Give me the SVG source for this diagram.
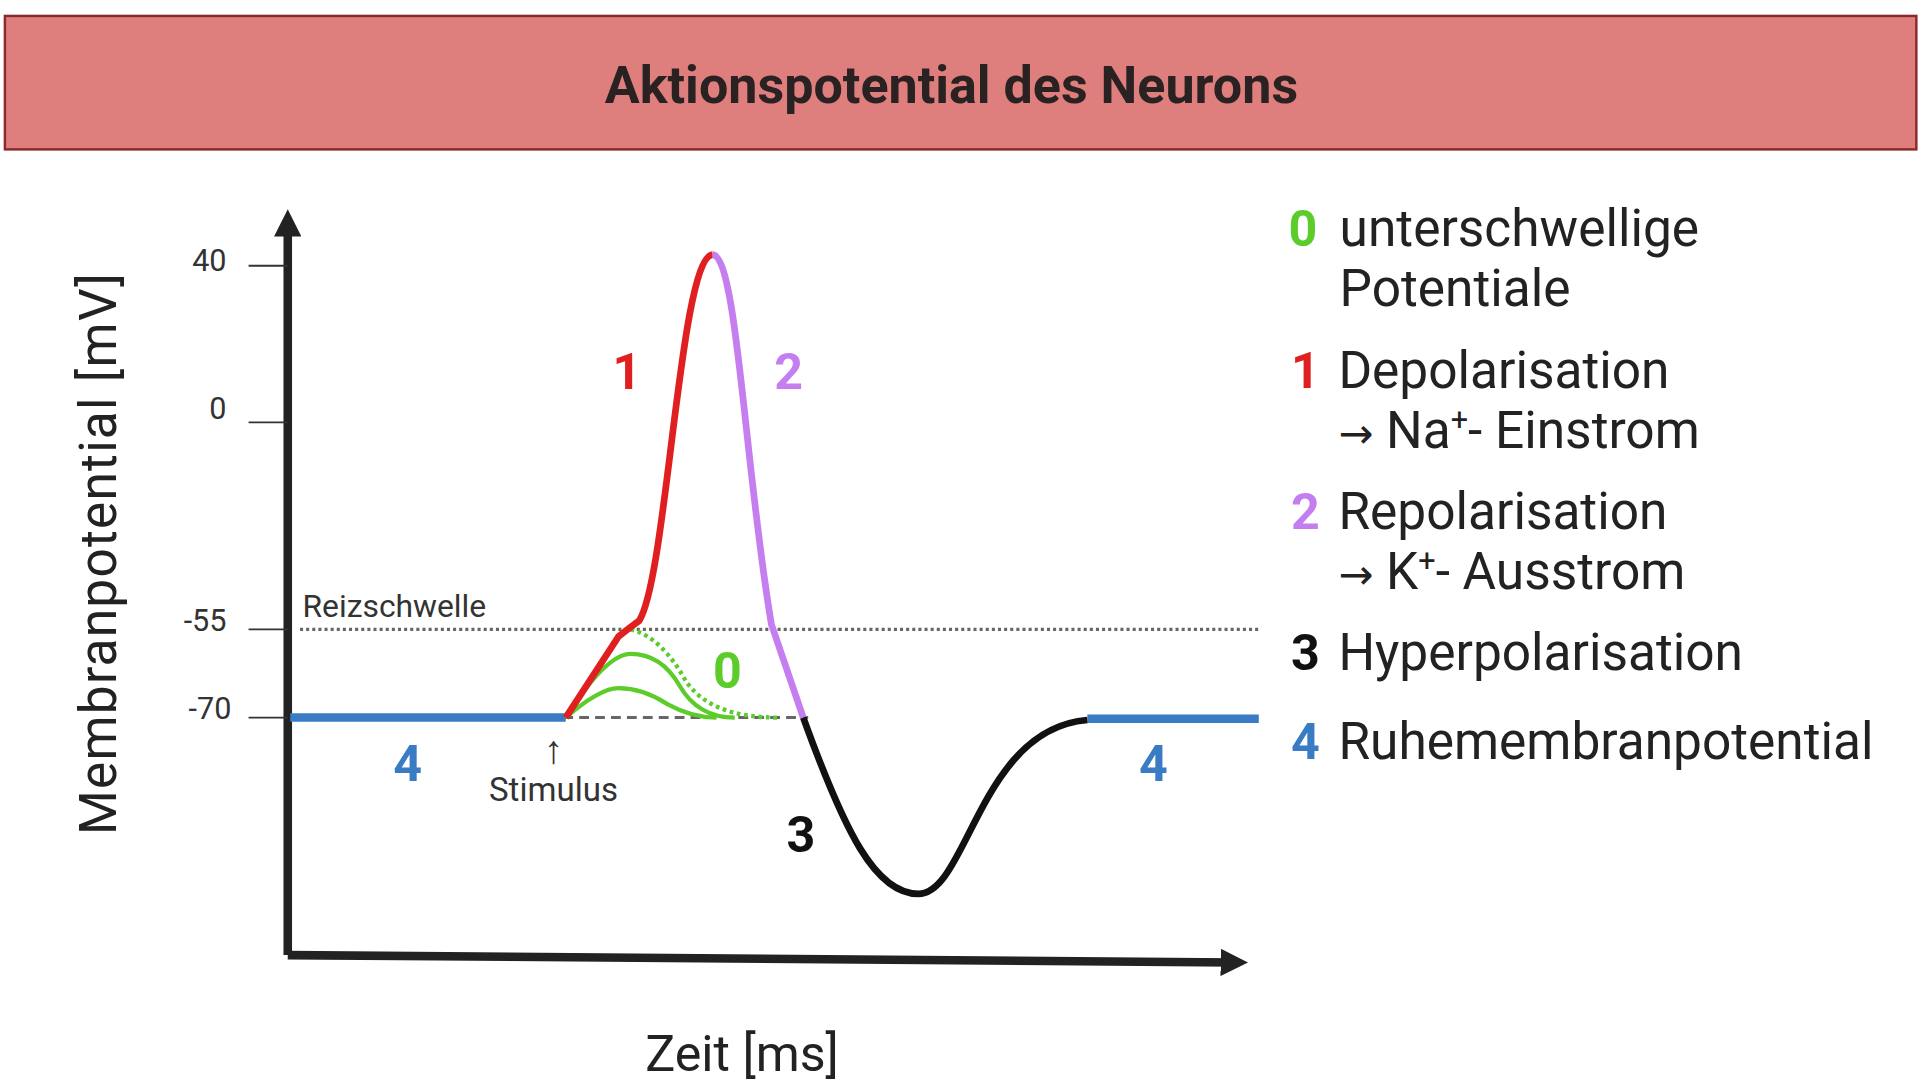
<svg xmlns="http://www.w3.org/2000/svg" width="1920" height="1080" viewBox="0 0 1920 1080">
<style>
text{font-family:Roboto,"Liberation Sans",sans-serif}
.tick{font-size:25px;fill:#333;text-anchor:end}
.num{font-size:41px;font-weight:bold;text-anchor:middle}
.leg{font-size:42px;fill:#222}
.ar{font-family:"DejaVu Sans",sans-serif;font-size:34px}
</style>
<defs>
<marker id="ah" viewBox="0 0 10 10" refX="5" refY="5" markerWidth="3.2" markerHeight="3.2" orient="auto"><path d="M0,0 L10,5 L0,10 z" fill="#222"/></marker>
</defs>
<rect width="1920" height="1080" fill="#fff"/>
<g transform="scale(1.2245)">
<g id="title"><rect x="4" y="13" width="1561" height="109" fill="#df7f7d" stroke="#8b2a2a" stroke-width="2"/>
<text x="777" y="84" text-anchor="middle" font-size="42.5" font-weight="bold" fill="#2a2222">Aktionspotential des Neurons</text></g>
<g id="connectors" fill="none">
<line x1="235" y1="780" x2="235" y2="182" stroke="#222" stroke-width="7" marker-end="url(#ah)"/>
<line x1="235" y1="780" x2="1008" y2="786" stroke="#222" stroke-width="7" marker-end="url(#ah)"/>
<g stroke="#333" stroke-width="1.5"><line x1="203" y1="217" x2="235" y2="217"/><line x1="203" y1="345" x2="235" y2="345"/><line x1="203" y1="514" x2="235" y2="514"/><line x1="203" y1="586" x2="235" y2="586"/></g>
<line x1="245" y1="514" x2="1028" y2="514" stroke="#666" stroke-width="2.5" stroke-dasharray="2.5 2.5"/>
<line x1="460" y1="586" x2="660" y2="586" stroke="#666" stroke-width="2.5" stroke-dasharray="8 5"/>
<g stroke="#3a7cc4" stroke-width="7"><line x1="237" y1="586" x2="462" y2="586"/><line x1="888" y1="587" x2="1028" y2="587"/></g>
<g stroke="#5ccc2a" stroke-width="3.5"><path d="M462,586 Q490,562 505,562 Q525,562 545,575 Q565,586 585,586"/><path d="M462,586 Q495,534 515,534 Q540,534 555,560 Q570,586 600,586"/></g>
<path d="M515,514 Q540,520 560,556 Q580,586 635,586" stroke="#5ccc2a" stroke-width="3.5" stroke-dasharray="3 3"/>
<path d="M462,586 L505,520 Q515,512 522,507 C545,470 555,210 582,208" stroke="#e02020" stroke-width="5.5"/>
<path d="M582,208 C602,210 608,380 630,510 L656,586" stroke="#c47ef0" stroke-width="5.5"/>
<path d="M656,586 C690,680 715,730 750,730 C790,730 800,595 888,588" stroke="#111" stroke-width="5.5"/>
</g>
<g id="labels">
<text class="tick" x="185" y="221">40</text><text class="tick" x="185" y="342">0</text><text class="tick" x="185" y="515">-55</text><text class="tick" x="189" y="587">-70</text>
<text x="247" y="504" font-size="26" fill="#333">Reizschwelle</text>
<text x="452" y="623" font-size="32" fill="#333" text-anchor="middle" font-family="DejaVu Sans, sans-serif">↑</text>
<text x="452" y="654" font-size="27" fill="#333" text-anchor="middle">Stimulus</text>
<text class="num" x="512" y="318" fill="#e02020">1</text>
<text class="num" x="644" y="318" fill="#c47ef0">2</text>
<text class="num" x="594" y="562" fill="#5ccc2a">0</text>
<text class="num" x="654" y="696" fill="#111">3</text>
<text class="num" x="333" y="638" fill="#3a7cc4">4</text>
<text class="num" x="942" y="638" fill="#3a7cc4">4</text>
<text x="0" y="0" font-size="42" letter-spacing="1" fill="#222" text-anchor="middle" transform="translate(95,452) rotate(-90)">Membranpotential [mV]</text>
<text x="606" y="875" font-size="41" fill="#222" text-anchor="middle">Zeit [ms]</text>
</g>
<g id="legend">
<text class="num" x="1064" y="201" fill="#5ccc2a">0</text><text class="leg" x="1094" y="201">unterschwellige</text><text class="leg" x="1094" y="250">Potentiale</text>
<text class="num" x="1066" y="317" fill="#e02020">1</text><text class="leg" x="1093" y="317">Depolarisation</text><text class="leg" x="1093" y="366"><tspan class="ar">→</tspan> Na<tspan font-size="25" dy="-15">+</tspan><tspan dy="15">- Einstrom</tspan></text>
<text class="num" x="1066" y="432" fill="#c47ef0">2</text><text class="leg" x="1093" y="432">Repolarisation</text><text class="leg" x="1093" y="481"><tspan class="ar">→</tspan> K<tspan font-size="25" dy="-15">+</tspan><tspan dy="15">- Ausstrom</tspan></text>
<text class="num" x="1066" y="547" fill="#111">3</text><text class="leg" x="1093" y="547">Hyperpolarisation</text>
<text class="num" x="1066" y="620" fill="#3a7cc4">4</text><text class="leg" x="1093" y="620">Ruhemembranpotential</text>
</g>
</g>
</svg>
